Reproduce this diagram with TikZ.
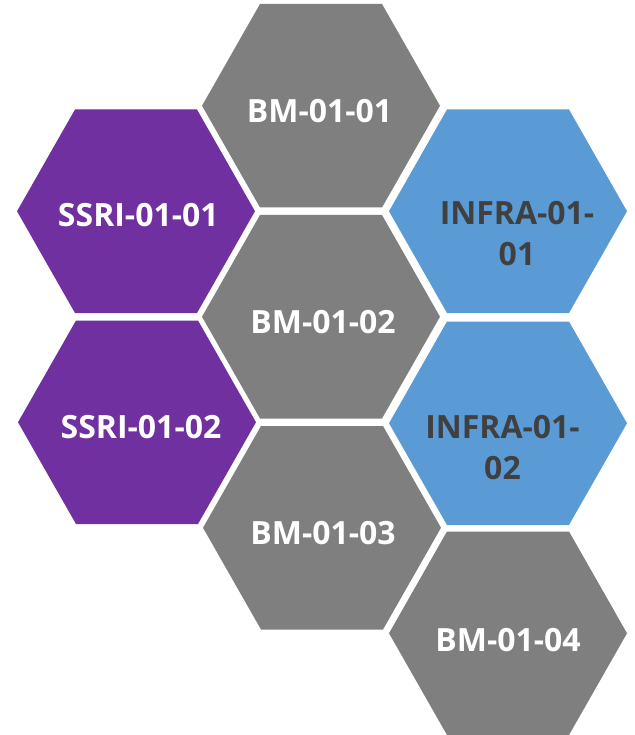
\documentclass[tikz,border=0pt]{standalone}
\usepackage{fontspec}
\setmainfont{Open Sans}
\definecolor{hexgray}{HTML}{7F7F7F}
\definecolor{hexpurple}{HTML}{7030A0}
\definecolor{hexblue}{HTML}{5B9BD5}
\definecolor{infratext}{HTML}{404040}
\tikzset{
  hexagon/.pic={\path[pic actions] (-119,0) -- (-61,-101.75) -- (61,-101.75) -- (119,0) -- (61,101.75) -- (-61,101.75) -- cycle;},
  hexlabel/.style={anchor=base, font=\fontsize{32}{40.5}\selectfont\bfseries, inner sep=0pt, align=center},
  graylabel/.style={hexlabel, text=white},
  bluelabel/.style={hexlabel, text=infratext}
}
\begin{document}
\begin{tikzpicture}[x=1pt,y=-1pt]
\useasboundingbox (0,0) rectangle (634,735);
\fill[white] (0,0) rectangle (634,735);
% hexagon centres
\coordinate (bm1) at (321,105.75);
\coordinate (bm2) at (321,316.75);
\coordinate (bm3) at (322,527.75);
\coordinate (bm4) at (508,633.25);
\coordinate (ssri1) at (136,211.25);
\coordinate (ssri2) at (137,422.25);
\coordinate (infra1) at (508,211.25);
\coordinate (infra2) at (508,423.25);
% hexagons
\pic[fill=hexgray] at (bm1) {hexagon};
\pic[fill=hexgray] at (bm2) {hexagon};
\pic[fill=hexgray] at (bm3) {hexagon};
\pic[fill=hexgray] at (bm4) {hexagon};
\pic[fill=hexpurple] at (ssri1) {hexagon};
\pic[fill=hexpurple] at (ssri2) {hexagon};
\pic[fill=hexblue] at (infra1) {hexagon};
\pic[fill=hexblue] at (infra2) {hexagon};
% labels (base anchor = baseline of the last line)
\node[graylabel] (tbm1) at (319.5,122.8) {BM-01-01};
\node[graylabel] (tbm2) at (323,333.1) {BM-01-02};
\node[graylabel] (tbm3) at (323,544.4) {BM-01-03};
\node[graylabel] (tbm4) at (508,651.4) {BM-01-04};
\node[graylabel] (tssri1) at (138.3,226.4) {SSRI-01-01};
\node[graylabel] (tssri2) at (141,438.4) {SSRI-01-02};
\node[bluelabel] (tinfra1) at (517,265) {INFRA-01-\\01};
\node[bluelabel] (tinfra2) at (502.5,479.3) {INFRA-01-\\02};
\end{tikzpicture}
\end{document}
